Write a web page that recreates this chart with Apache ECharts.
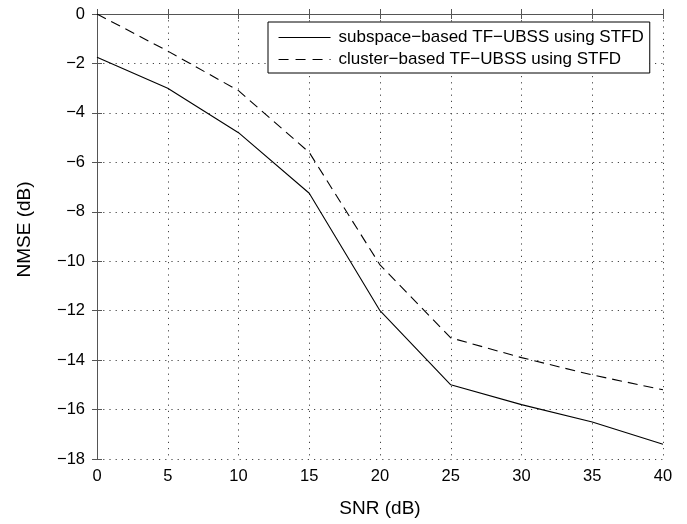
<!DOCTYPE html>
<html><head><meta charset="utf-8">
<script src="https://cdn.jsdelivr.net/npm/echarts@6/dist/echarts.min.js"></script>
<style>html,body{margin:0;padding:0;background:#fff}#c{width:687px;height:524px}</style>
</head><body><div id="c"></div>
<script>
const snr = [0, 5, 10, 15, 20, 25, 30, 35, 40];
const subspaceNMSE = [-1.75, -3.0, -4.8, -7.25, -12.0, -15.0, -15.8, -16.5, -17.4];
const clusterNMSE = [0.0, -1.5, -3.1, -5.6, -10.15, -13.1, -13.9, -14.6, -15.2];
const seriesNames = ['subspace\u2212based TF\u2212UBSS using STFD', 'cluster\u2212based TF\u2212UBSS using STFD'];
const xTitle = 'SNR (dB)';
const yTitle = 'NMSE (dB)';

const font = 'Liberation Sans, Arial, Helvetica, sans-serif';
const chart = echarts.init(document.getElementById('c'));
const gridLine = {show: true, lineStyle: {color: '#444', type: [1.2, 5], width: 1}};
const axisLine = {show: true, lineStyle: {color: '#555', width: 1}};
const tick = {show: true, inside: true, length: 5, lineStyle: {color: '#555'}};
chart.setOption({
  animation: false,
  backgroundColor: '#fff',
  grid: {left: 97, right: 24, top: 14, bottom: 65, containLabel: false},
  legend: {
    left: 268, top: 22, orient: 'vertical',
    backgroundColor: '#fff', borderColor: '#000', borderWidth: 1,
    padding: [7, 6, 5, 10], itemGap: 5, itemWidth: 52, itemHeight: 14,
    itemStyle: {opacity: 0},
    lineStyle: {width: 1.1, color: '#000'},
    textStyle: {fontFamily: font, fontSize: 17, color: '#000', padding: [0, 0, 0, 3]},
    data: [
      {name: seriesNames[0], lineStyle: {type: 'solid'}},
      {name: seriesNames[1], lineStyle: {type: [10, 7]}}
    ]
  },
  xAxis: [{
    type: 'value', min: 0, max: 40, interval: 5,
    name: xTitle, nameLocation: 'middle', nameGap: 40,
    nameTextStyle: {fontFamily: font, fontSize: 19, color: '#000'},
    axisLine, axisTick: tick, splitLine: gridLine,
    axisLabel: {fontFamily: font, fontSize: 16.5, color: '#000', margin: 9}
  }, {
    type: 'value', min: 0, max: 40, interval: 5, position: 'top',
    axisLine, axisTick: tick, splitLine: {show: false}, axisLabel: {show: false}
  }],
  yAxis: [{
    type: 'value', min: -18, max: 0, interval: 2,
    name: yTitle, nameLocation: 'middle', nameGap: 63,
    nameTextStyle: {fontFamily: font, fontSize: 19, color: '#000', padding: [0, 0, 0, 14]},
    axisLine, axisTick: tick, splitLine: gridLine,
    axisLabel: {fontFamily: font, fontSize: 16.5, color: '#000', margin: 12,
      formatter: v => v < 0 ? '\u2212' + Math.abs(v) : String(v)}
  }, {
    type: 'value', min: -18, max: 0, interval: 2, position: 'right',
    axisLine, axisTick: tick, splitLine: {show: false}, axisLabel: {show: false}
  }],
  series: [{
    name: seriesNames[0], type: 'line', symbol: 'none',
    data: snr.map((x, i) => [x, subspaceNMSE[i]]),
    lineStyle: {color: '#000', width: 1.1, type: 'solid'}, itemStyle: {color: '#000'}
  }, {
    name: seriesNames[1], type: 'line', symbol: 'none',
    data: snr.map((x, i) => [x, clusterNMSE[i]]),
    lineStyle: {color: '#000', width: 1.1, type: [10, 6]}, itemStyle: {color: '#000'}
  }]
});
</script></body></html>
